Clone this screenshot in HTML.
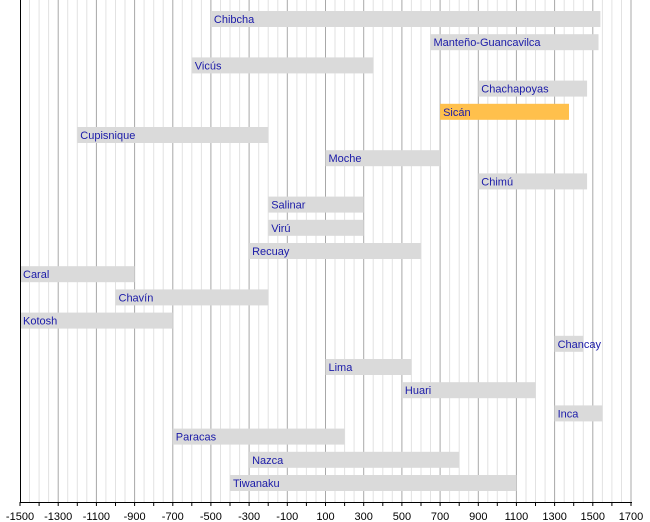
<!DOCTYPE html>
<html><head><meta charset="utf-8"><style>
html,body{margin:0;padding:0;background:#fff;width:650px;height:522px;overflow:hidden}
svg text{font-family:"Liberation Sans",sans-serif}
</style></head><body>
<svg id="s" width="650" height="522" xmlns="http://www.w3.org/2000/svg"></svg>
<script>
const s=document.getElementById('s');
const X=y=>20+(y+1500)*611/3200;
let h='';
for(let y=-1500;y<=1700;y+=50){
  const x=X(y).toFixed(1);
  const major=((y+1500)%200===0);
  if(y>-1500) h+=`<line x1="${x}" y1="0" x2="${x}" y2="502" stroke="${major?'#a8a8a8':'#e2e2e2'}" stroke-width="1"/>`;
}
const bars=[
["Chibcha",-500,1540],["Manteño-Guancavilca",650,1530],["Vicús",-600,350],["Chachapoyas",900,1470],
["Sicán",700,1375,1],["Cupisnique",-1200,-200],["Moche",100,700],["Chimú",900,1470],["Salinar",-200,300],
["Virú",-200,300],["Recuay",-300,600],["Caral",-1500,-900],["Chavín",-1000,-200],["Kotosh",-1500,-700],
["Chancay",1300,1450],["Lima",100,550],["Huari",500,1200],["Inca",1300,1550],["Paracas",-700,200],
["Nazca",-300,800],["Tiwanaku",-400,1100]];
bars.forEach((b,i)=>{
  const cy=19+i*23.2, x1=X(b[1]), x2=X(b[2]);
  h+=`<rect x="${x1.toFixed(1)}" y="${(cy-8).toFixed(1)}" width="${(x2-x1).toFixed(1)}" height="16" fill="${b[3]?'#ffc04c':'#dadada'}"/>`;
  h+=`<text x="${(x1+3).toFixed(1)}" y="${(cy+4).toFixed(1)}" font-size="11" fill="#1a1aa8">${b[0]}</text>`;
});
h+=`<line x1="20.5" y1="0" x2="20.5" y2="502" stroke="#000"/>`;
h+=`<line x1="20" y1="502.5" x2="632" y2="502.5" stroke="#000"/>`;
for(let y=-1500;y<=1700;y+=100){
  const x=X(y).toFixed(1);
  h+=`<line x1="${x}" y1="502" x2="${x}" y2="506" stroke="#000"/>`;
  if((y+1500)%200===0) h+=`<text x="${x}" y="520" font-size="11" text-anchor="middle" fill="#000">${y}</text>`;
}
s.innerHTML=h;
</script>
</body></html>
